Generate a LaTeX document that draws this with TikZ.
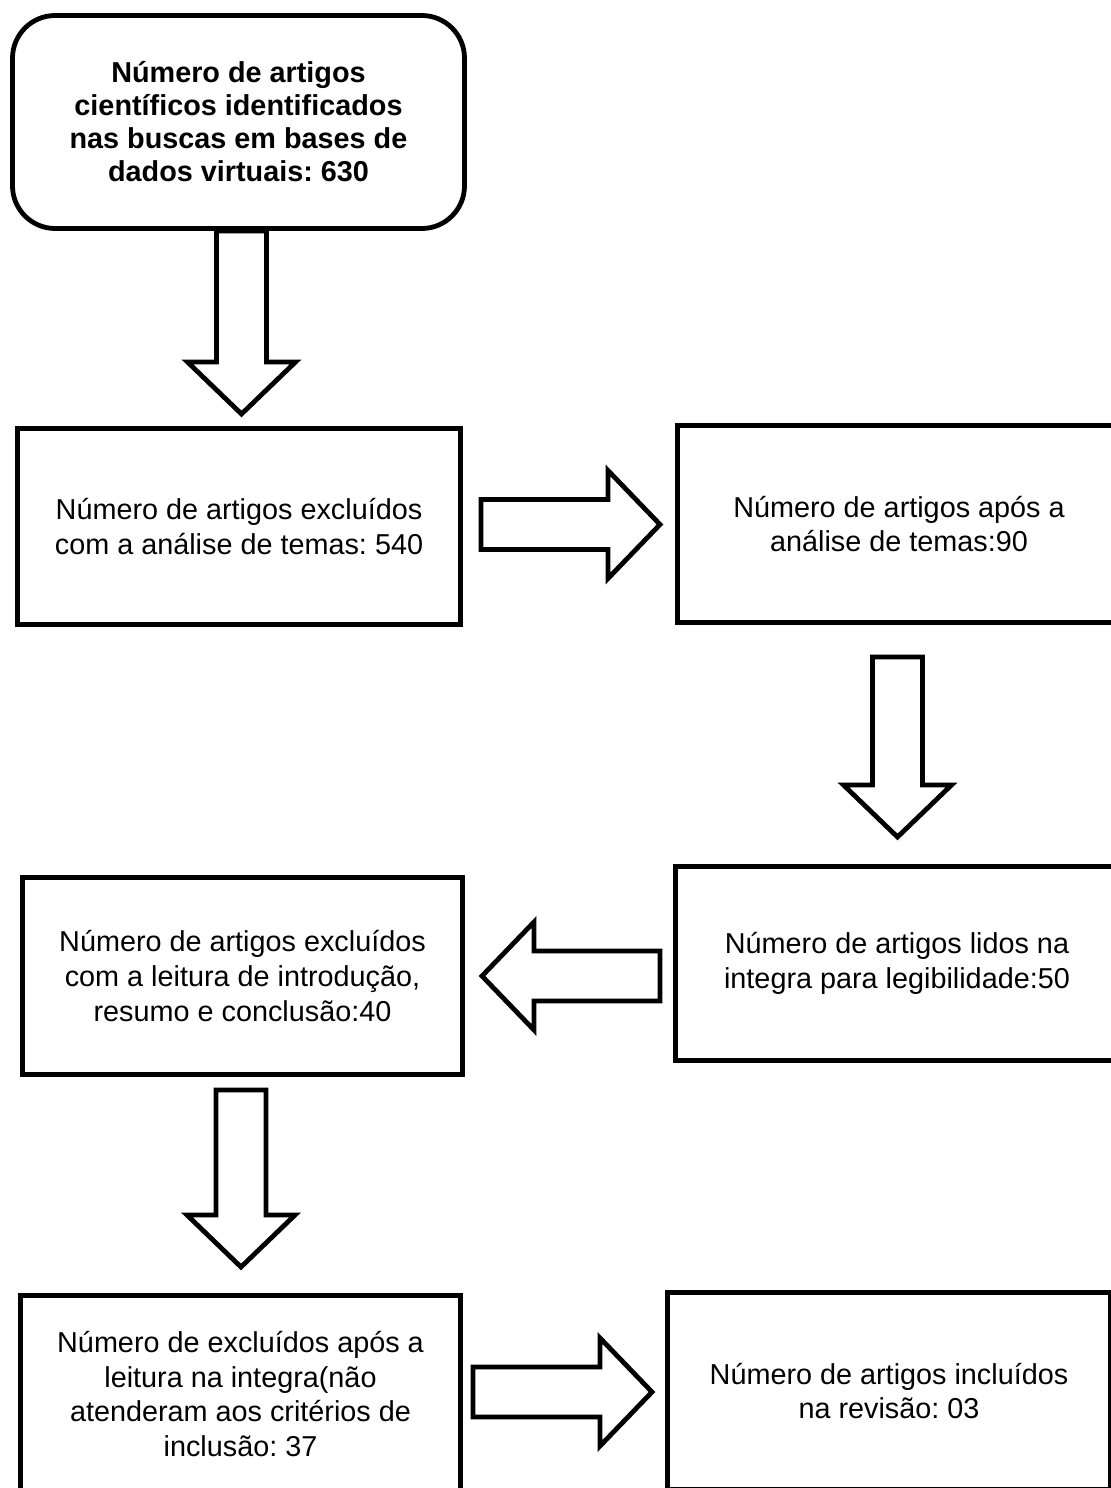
\documentclass[tikz,border=0pt]{standalone}
\usepackage{fontspec}
\setmainfont{Liberation Sans}
\usetikzlibrary{calc}
\frenchspacing
\tikzset{
  box/.style={draw, line width=3.6pt, align=center, inner sep=0pt, fill=white,
    font=\fontsize{21.6}{26}\selectfont},
  topbox/.style={box, rounded corners=32pt, font=\fontsize{21.6}{24.75}\selectfont\bfseries},
  blockarr/.style={draw, line width=3.6pt, fill=white, line join=miter, miter limit=10}
}
% down arrow: #1 start, #2 tip
\newcommand\darrow[2]{%
  \draw[blockarr] ($(#1)+(-25,0)$) -- ($(#2)+(-25,-52)$) -- ($(#2)+(-54,-52)$) -- (#2)
    -- ($(#2)+(54,-52)$) -- ($(#2)+(25,-52)$) -- ($(#1)+(25,0)$) -- cycle;}
% right arrow
\newcommand\rarrow[2]{%
  \draw[blockarr] ($(#1)+(0,-25)$) -- ($(#2)+(-52,-25)$) -- ($(#2)+(-52,-54)$) -- (#2)
    -- ($(#2)+(-52,54)$) -- ($(#2)+(-52,25)$) -- ($(#1)+(0,25)$) -- cycle;}
% left arrow
\newcommand\larrow[2]{%
  \draw[blockarr] ($(#1)+(0,-25)$) -- ($(#2)+(52,-25)$) -- ($(#2)+(52,-54)$) -- (#2)
    -- ($(#2)+(52,54)$) -- ($(#2)+(52,25)$) -- ($(#1)+(0,25)$) -- cycle;}
\begin{document}
\begin{tikzpicture}[x=0.75pt,y=-0.75pt]
\useasboundingbox[fill=white] (0,0) rectangle (1110,1488);

\node[topbox, minimum width=339pt, minimum height=159.75pt] (b1) at (238.5,122)
  {Número de artigos\\científicos identificados\\nas buscas em bases de\\dados virtuais: 630};
\node[box, minimum width=332.25pt, minimum height=147pt] (b2) at (239,526.5)
  {Número de artigos excluídos\\com a análise de temas: 540};
\node[box, minimum width=332.25pt, minimum height=147.75pt] (b3) at (899,524)
  {Número de artigos após a\\análise de temas:90};
\node[box, minimum width=332.25pt, minimum height=145.5pt] (b4) at (897,963.5)
  {Número de artigos lidos na\\integra para legibilidade:50};
\node[box, minimum width=330pt, minimum height=147.75pt] (b5) at (242.5,976)
  {Número de artigos excluídos\\com a leitura de introdução,\\resumo e conclusão:40};
\node[box, minimum width=330pt, minimum height=147.75pt] (b6) at (240.5,1394)
  {Número de excluídos após a\\leitura na integra(não\\atenderam aos critérios de\\inclusão: 37};
\node[box, minimum width=332.25pt, minimum height=147.75pt] (b7) at (889,1391)
  {Número de artigos incluídos\\na revisão: 03};

\coordinate (a1s) at (241.5,231);  \coordinate (a1t) at (241.5,414);
\coordinate (a2s) at (481,524.5);  \coordinate (a2t) at (660,524.5);
\coordinate (a3s) at (897.5,657);  \coordinate (a3t) at (897.5,837);
\coordinate (a4s) at (660,976);    \coordinate (a4t) at (482,976);
\coordinate (a5s) at (241,1090);   \coordinate (a5t) at (241,1267);
\coordinate (a6s) at (473,1392);   \coordinate (a6t) at (652,1392);

\darrow{a1s}{a1t}
\rarrow{a2s}{a2t}
\darrow{a3s}{a3t}
\larrow{a4s}{a4t}
\darrow{a5s}{a5t}
\rarrow{a6s}{a6t}
\end{tikzpicture}
\end{document}
